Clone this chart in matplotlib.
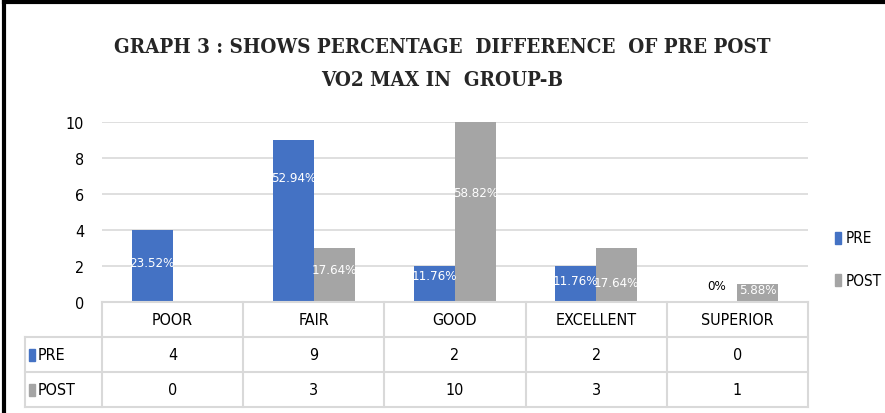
import matplotlib
matplotlib.use("Agg")
import matplotlib.pyplot as plt
from matplotlib.patches import Rectangle
from matplotlib.lines import Line2D
from matplotlib import font_manager
import numpy as np

categories = ["POOR", "FAIR", "GOOD", "EXCELLENT", "SUPERIOR"]
pre = [4, 9, 2, 2, 0]
post = [0, 3, 10, 3, 1]
pre_pct = ["23.52%", "52.94%", "11.76%", "11.76%", "0%"]
post_pct = ["0%", "17.64%", "58.82%", "17.64%", "5.88%"]

# label placement (layout, not data)
pre_lab_y = [2.2, 6.9, 1.5, 1.2, 0.9]
post_lab_y = [0.0, 1.8, 6.1, 1.1, 0.7]

BLUE = "#4472C4"
GRAY = "#A5A5A5"
GRID = "#D9D9D9"

names = {f.name for f in font_manager.fontManager.ttflist}
cond = [f for f in font_manager.fontManager.ttflist
        if f.name == "DejaVu Sans" and "ondensed" in f.fname]
if "Liberation Sans Narrow" in names:
    NARROW = dict(family="Liberation Sans Narrow")
elif cond:
    NARROW = dict(family="DejaVu Sans", stretch="condensed")
else:
    NARROW = dict(family="Roboto")
scond = [f for f in font_manager.fontManager.ttflist
         if f.name == "DejaVu Serif" and "ondensed" in f.fname]
if scond:
    TITLE = dict(family="DejaVu Serif", stretch="condensed", fontsize=14.8)
else:
    TITLE = dict(family="Liberation Serif", fontsize=14.8)

W, H = 885, 414
fig = plt.figure(figsize=(W / 100, H / 100), dpi=100)

def fx(px):
    return px / W

def fy(py):
    return 1 - py / H

ax_l, ax_r, ax_t, ax_b = 102, 808, 123, 303
ax = fig.add_axes([fx(ax_l), fy(ax_b), fx(ax_r - ax_l), fy(ax_t) - fy(ax_b)])

x = np.arange(len(categories))
bw = 0.29
off = 0.145
ax.bar(x - off, pre, bw, color=BLUE, zorder=3)
ax.bar(x + off, post, bw, color=GRAY, zorder=3)

for i in range(len(categories)):
    col_pre = "white" if pre[i] > 0 else "black"
    ax.text(x[i] - off, pre_lab_y[i], pre_pct[i], ha="center", va="center",
            color=col_pre, fontsize=9.5, zorder=4, **NARROW)
    ax.text(x[i] + off, post_lab_y[i], post_pct[i], ha="center", va="center",
            color="white", fontsize=9.5, zorder=4, **NARROW)

ax.set_xlim(-0.5, len(categories) - 0.5)
ax.set_ylim(0, 10)
ax.set_yticks([0, 2, 4, 6, 8, 10])
ax.set_xticks([])
ax.grid(axis="y", color=GRID, linewidth=1.2, zorder=0)
for s in ax.spines.values():
    s.set_visible(False)
ax.tick_params(axis="y", length=0, pad=13, labelsize=11.5)
for t in ax.get_yticklabels():
    t.set(**NARROW)

# data table drawn below axes
tab_left = 25
rows_y = [303, 338, 373, 408]
col_w = (ax_r - ax_l) / len(categories)
lines = []
lines.append(((ax_l, ax_r), (303, 303)))
for yy in rows_y[1:]:
    lines.append(((tab_left, ax_r), (yy, yy)))
for k in range(len(categories) + 1):
    xx = ax_l + k * col_w
    lines.append(((xx, xx), (303, 408)))
lines.append(((tab_left, tab_left), (338, 408)))
for (xs, ys) in lines:
    fig.add_artist(Line2D([fx(xs[0]), fx(xs[1])], [fy(ys[0]), fy(ys[1])],
                          color=GRID, linewidth=1.5))

for k, cat in enumerate(categories):
    cx = ax_l + (k + 0.5) * col_w
    fig.text(fx(cx), fy(321), cat, ha="center", va="center", fontsize=11.5, **NARROW)
    fig.text(fx(cx), fy(356), str(pre[k]), ha="center", va="center", fontsize=11.5, **NARROW)
    fig.text(fx(cx), fy(391), str(post[k]), ha="center", va="center", fontsize=11.5, **NARROW)

for (name, color, yy) in [("PRE", BLUE, 356), ("POST", GRAY, 391)]:
    fig.add_artist(Rectangle((fx(29), fy(yy + 6)), fx(6), fy(yy - 6) - fy(yy + 6),
                             color=color, transform=fig.transFigure))
    fig.text(fx(38), fy(yy), name, ha="left", va="center", fontsize=11.5, **NARROW)

# legend
for (name, color, yy) in [("PRE", BLUE, 239), ("POST", GRAY, 281)]:
    fig.add_artist(Rectangle((fx(835), fy(yy + 6)), fx(6), fy(yy - 6) - fy(yy + 6),
                             color=color, transform=fig.transFigure))
    fig.text(fx(846), fy(yy), name, ha="left", va="center", fontsize=11, **NARROW)

# title
fig.text(0.5, fy(47), "GRAPH 3 : SHOWS PERCENTAGE  DIFFERENCE  OF PRE POST",
         ha="center", va="center", fontweight="bold", color="#262626", **TITLE)
fig.text(0.5, fy(80), "VO2 MAX IN  GROUP-B",
         ha="center", va="center", fontweight="bold", color="#262626", **TITLE)

# outer frame (partially cropped)
fig.add_artist(Line2D([fx(4), fx(4)], [fy(3), 0], color="black", linewidth=3))
fig.add_artist(Line2D([fx(4), 1], [fy(3), fy(3)], color="black", linewidth=3))

fig.savefig("out.png", dpi=100)
